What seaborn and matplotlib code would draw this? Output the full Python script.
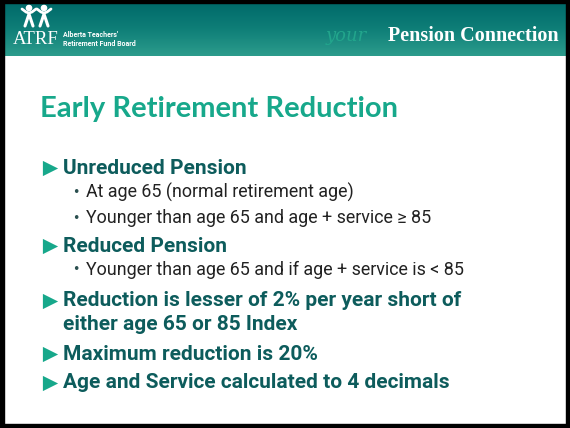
import numpy as np
import pandas as pd
import seaborn as sns
import matplotlib.pyplot as plt
from matplotlib.patches import Rectangle, Circle

sns.set_theme(style="white")

# slide text
title = "Early Retirement Reduction"
main_points = ["Unreduced Pension",
               "Reduced Pension",
               "Reduction is lesser of 2% per year short of",
               "Maximum reduction is 20%",
               "Age and Service calculated to 4 decimals"]
main_rows = [168, 246, 301, 354, 383]
wrap_lines = ["either age 65 or 85 Index"]
wrap_rows = [325]
sub_points = ["At age 65 (normal retirement age)",
              "Younger than age 65 and age + service \u2265 85",
              "Younger than age 65 and if age + service is < 85"]
sub_rows = [192, 218, 270]

teal = "#17a88b"
dark_teal = "#0d5c5c"
main_font = dict(color=dark_teal, fontsize=15, weight="bold", family="Roboto",
                 va="center", zorder=3)

fig = plt.figure(figsize=(5.7, 4.28), dpi=100)
ax = fig.add_axes([0, 0, 1, 1])
ax.set_xlim(0, 570)
ax.set_ylim(428, 0)
ax.axis("off")

# header band gradient
grad = np.linspace(0, 1, 100).reshape(-1, 1)
cmap = sns.blend_palette(["#006a6a", "#0f7f78", "#2c9c8c"], as_cmap=True)
ax.imshow(grad, cmap=cmap, extent=[0, 570, 56, 3], aspect="auto", zorder=1)

# logo figures
for cx in [29, 44]:
    ax.add_patch(Circle((cx, 8), 2.6, color="white", zorder=3))
    ax.plot([cx - 7, cx - 3, cx, cx + 3, cx + 7], [9, 12, 13, 12, 9],
            color="white", lw=2, zorder=3)
    ax.plot([cx - 4, cx, cx + 4], [26, 14, 26], color="white", lw=2.2, zorder=3)
ax.text(36, 39, "ATRF", color="white", fontsize=13.5, family="Liberation Serif",
        ha="center", va="center", zorder=3)
ax.text(63, 35, "Alberta Teachers'", color="white", fontsize=5, weight="bold",
        family="Roboto", va="center", zorder=3)
ax.text(63, 44, "Retirement Fund Board", color="white", fontsize=5, weight="bold",
        family="Roboto", va="center", zorder=3)
ax.text(326, 36, "your", color="#22a58c", fontsize=13, style="italic",
        family="DejaVu Serif", va="center", zorder=3)
ax.text(388, 36, "Pension Connection", color="white", fontsize=14.5, weight="bold",
        family="Liberation Serif", va="center", zorder=3)

# title
ax.text(40, 109, title, color=teal, fontsize=21, weight="bold", family="Lato",
        va="center", zorder=3)

# main bullets (triangles) via seaborn
bul = pd.DataFrame({"x": [50] * len(main_rows), "y": main_rows})
sns.scatterplot(data=bul, x="x", y="y", marker=">", s=120, color=teal,
                edgecolor=teal, linewidth=0, ax=ax, zorder=3, legend=False)
for txt, y in zip(main_points + wrap_lines, main_rows + wrap_rows):
    ax.text(63, y, txt, **main_font)
for txt, y in zip(sub_points, sub_rows):
    ax.text(72, y, "\u2022", color="#2a4f4f", fontsize=9, va="center", zorder=3)
    ax.text(86, y, txt, color="#222222", fontsize=12.9, family="Roboto",
            va="center", zorder=3)

# slide frame
for r in [(0, 0, 570, 3), (0, 0, 4, 428), (566, 0, 4, 428), (0, 424, 570, 4)]:
    ax.add_patch(Rectangle(r[:2], r[2], r[3], color="black", zorder=5))

fig.savefig("out.png", dpi=100)
